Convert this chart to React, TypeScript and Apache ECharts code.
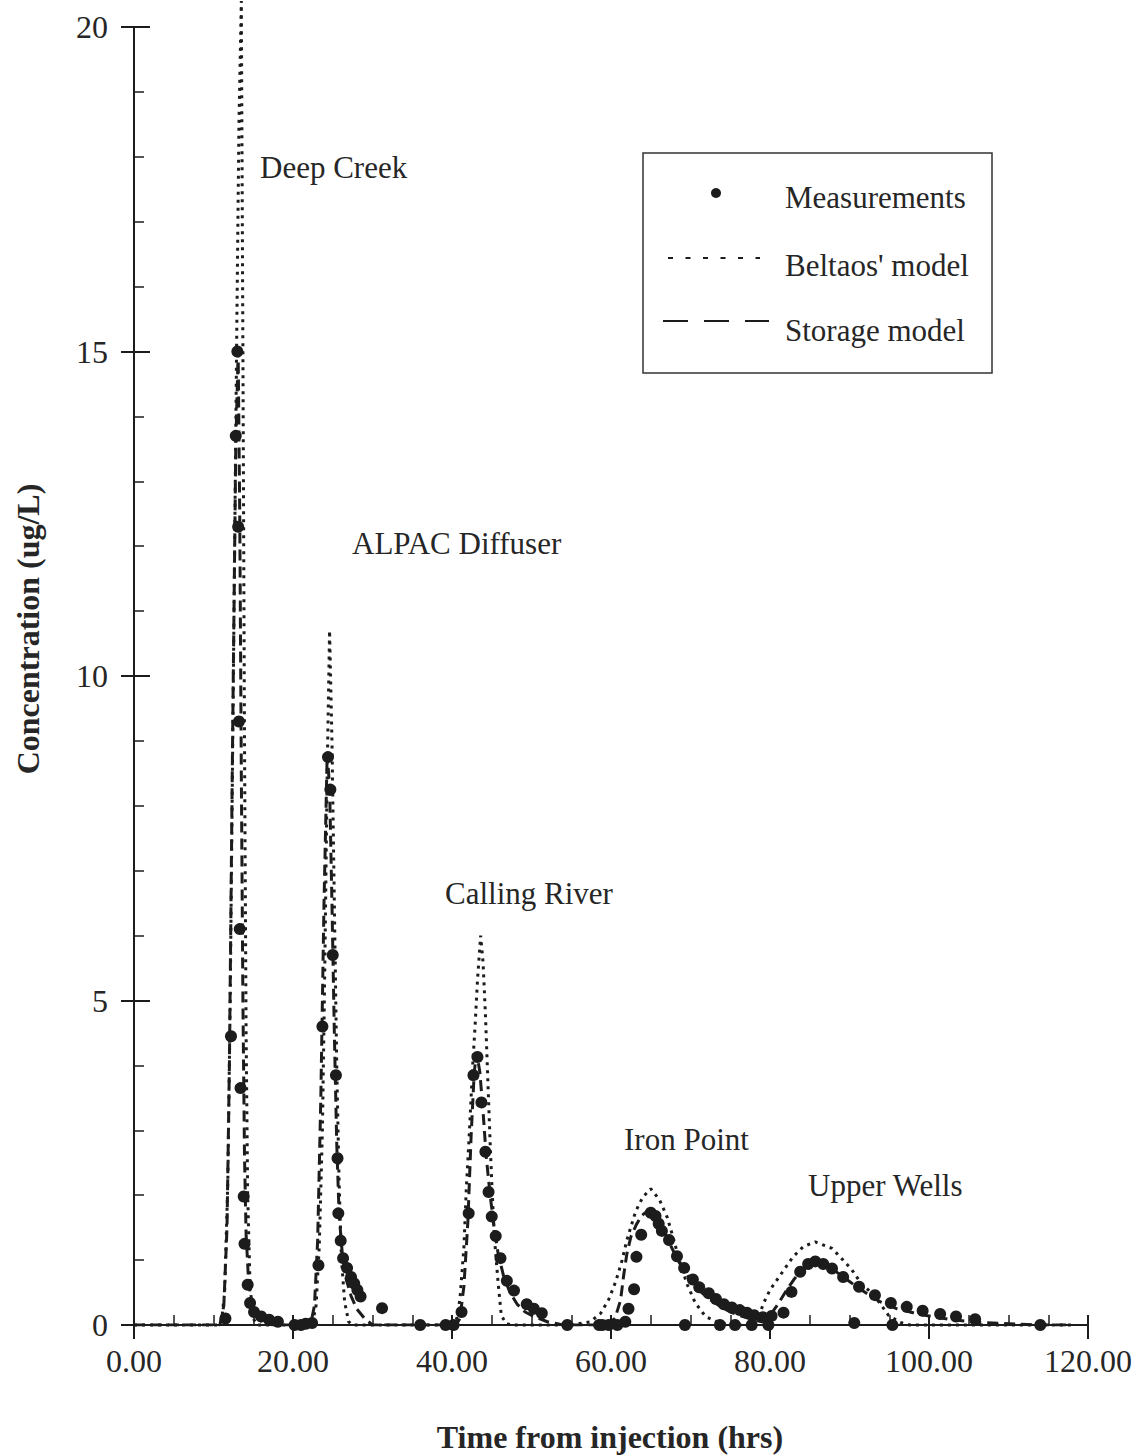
import React, { useEffect, useRef } from "react";
import * as echarts from "echarts";

// ---- tick labels / names ----
const xTickLabels = ["0.00", "20.00", "40.00", "60.00", "80.00", "100.00", "120.00"];
const yTickLabels = ["0", "5", "10", "15", "20"];
const stationNames = ["Deep Creek", "ALPAC Diffuser", "Calling River", "Iron Point", "Upper Wells"];
const seriesNames = ["Measurements", "Beltaos' model", "Storage model"];
const xTitle = "Time from injection (hrs)";
const yTitle = "Concentration (ug/L)";

// ---- measurements [time (hrs), concentration (ug/L)] ----
const deepCreekMeas = [
  [11.5, 0.1], [12.2, 4.45], [12.8, 13.7], [13.0, 15.0], [13.1, 12.3], [13.2, 9.3],
  [13.3, 6.1], [13.4, 3.65], [13.8, 1.98], [13.9, 1.25], [14.3, 0.62], [14.6, 0.34],
  [15.1, 0.2], [16.0, 0.13], [17.0, 0.08], [18.1, 0.05], [20.2, 0], [21.0, 0],
  [21.6, 0.02], [22.4, 0.03],
];
const alpacMeas = [
  [23.2, 0.92], [23.7, 4.6], [24.4, 8.75], [24.7, 8.25], [25.0, 5.7], [25.4, 3.85],
  [25.6, 2.57], [25.7, 1.72], [26.0, 1.3], [26.3, 1.03], [26.8, 0.88], [27.3, 0.74],
  [27.7, 0.64], [28.1, 0.54], [28.5, 0.44], [31.2, 0.26],
];
const callingMeas = [
  [36.0, 0], [39.2, 0], [40.2, 0], [41.2, 0.2], [42.1, 1.72], [42.7, 3.85], [43.2, 4.13],
  [43.7, 3.43], [44.2, 2.67], [44.6, 2.05], [45.0, 1.67], [45.5, 1.37], [46.1, 1.03],
  [46.9, 0.68], [47.8, 0.53], [49.4, 0.32], [50.3, 0.25], [51.3, 0.18], [54.5, 0], [58.5, 0],
];
const ironPointMeas = [
  [58.9, 0], [59.7, 0], [60.8, 0], [61.8, 0.05], [62.2, 0.25], [62.9, 0.55], [63.2, 1.05],
  [63.8, 1.39], [65.0, 1.73], [65.6, 1.68], [66.0, 1.56], [66.4, 1.45], [67.3, 1.31],
  [68.3, 1.06], [69.2, 0.88], [70.3, 0.7], [71.1, 0.58], [72.3, 0.49], [73.2, 0.4],
  [74.2, 0.32], [75.2, 0.27], [76.2, 0.23], [77.1, 0.19], [78.0, 0.15], [79.1, 0.12],
  [69.3, 0], [73.7, 0], [75.6, 0], [77.7, 0], [79.8, 0],
];
const upperWellsMeas = [
  [80.2, 0.14], [81.7, 0.19], [82.7, 0.51], [83.8, 0.82], [84.8, 0.94], [85.7, 0.98],
  [86.7, 0.94], [87.8, 0.87], [89.2, 0.74], [91.2, 0.59], [93.2, 0.46], [95.2, 0.34],
  [97.2, 0.28], [99.2, 0.22], [101.4, 0.17], [103.4, 0.13], [105.8, 0.09], [90.6, 0.03],
  [95.4, 0], [114.0, 0],
];

// ---- model curves [time, concentration] ----
const beltaosModel = [
  [0, 0], [10.6, 0], [11.0, 0.05], [11.4, 0.5], [11.8, 2.2], [12.1, 5.0], [12.5, 10.0],
  [12.9, 15.0], [13.2, 18.5], [13.5, 20.4], [13.7, 15.0], [13.9, 9.0], [14.1, 4.5],
  [14.3, 2.0], [14.6, 0.6], [15.0, 0.1], [15.5, 0],
  [22.4, 0], [22.9, 0.3], [23.3, 1.2], [23.7, 3.0], [24.0, 5.5], [24.3, 8.5], [24.6, 10.7],
  [24.9, 9.0], [25.2, 6.5], [25.5, 4.0], [25.8, 2.2], [26.1, 1.0], [26.5, 0.35], [27.0, 0.05],
  [27.5, 0],
  [40.0, 0], [40.6, 0.1], [41.0, 0.4], [41.5, 1.2], [41.8, 2.1], [42.2, 3.0], [42.6, 4.0],
  [42.9, 4.6], [43.2, 5.3], [43.6, 6.0], [43.9, 5.6], [44.2, 4.8], [44.5, 3.8], [44.8, 2.8],
  [45.0, 2.2], [45.3, 1.4], [45.8, 0.65], [46.2, 0.15], [46.8, 0.02], [47.5, 0],
  [55.0, 0], [57.4, 0.05], [58.7, 0.18], [59.7, 0.39], [60.6, 0.67], [61.4, 1.0], [62.0, 1.31],
  [63.1, 1.75], [64.0, 1.97], [65.0, 2.1], [66.1, 1.93], [67.1, 1.65], [67.9, 1.31],
  [68.7, 0.95], [69.6, 0.62], [70.6, 0.34], [71.9, 0.13], [73.3, 0.05], [75.0, 0],
  [77.5, 0], [78.5, 0.1], [79.2, 0.34], [80.0, 0.54], [81.3, 0.77], [82.9, 1.05], [84.2, 1.21],
  [85.7, 1.28], [87.8, 1.18], [89.2, 1.0], [90.3, 0.85], [91.3, 0.67], [92.6, 0.51],
  [93.8, 0.34], [94.9, 0.15], [96.4, 0.04], [97.6, 0], [118.0, 0],
];
const storageModel = [
  [0, 0], [10.8, 0], [11.3, 0.3], [11.7, 1.5], [12.0, 4.0], [12.4, 9.0], [12.8, 13.5],
  [13.1, 15.0], [13.3, 12.5], [13.5, 8.5], [13.7, 5.0], [13.9, 2.6], [14.1, 1.4], [14.4, 0.7],
  [14.8, 0.3], [15.5, 0.1], [16.5, 0.02], [17.5, 0],
  [22.2, 0], [22.7, 0.3], [23.1, 1.3], [23.5, 3.5], [23.9, 6.5], [24.3, 8.8], [24.6, 8.3],
  [24.9, 6.5], [25.2, 4.5], [25.5, 2.8], [25.8, 1.7], [26.2, 1.1], [26.7, 0.7], [27.3, 0.45],
  [28.0, 0.25], [29.0, 0.1], [30.0, 0],
  [40.5, 0], [41.0, 0.1], [41.5, 0.6], [42.0, 1.6], [42.4, 2.9], [42.8, 3.9], [43.1, 4.2],
  [43.5, 3.9], [43.9, 3.3], [44.3, 2.6], [44.8, 2.0], [45.3, 1.5], [45.8, 1.1], [46.5, 0.75],
  [47.3, 0.5], [48.2, 0.32], [49.2, 0.2], [50.5, 0.12], [52.0, 0.05], [54.0, 0],
  [58.0, 0], [59.5, 0.02], [60.5, 0.1], [61.2, 0.38], [61.6, 0.77], [62.0, 1.1], [62.5, 1.36],
  [63.2, 1.55], [63.9, 1.69], [64.7, 1.77], [65.5, 1.72], [66.3, 1.55], [67.2, 1.3],
  [68.2, 1.05], [69.2, 0.83], [70.3, 0.65], [71.4, 0.5], [72.6, 0.38], [73.8, 0.28],
  [75.0, 0.2], [76.3, 0.14], [77.6, 0.09], [79.0, 0.05],
  [80.0, 0.15], [81.0, 0.32], [82.0, 0.52], [83.0, 0.7], [84.0, 0.84], [85.0, 0.92],
  [86.0, 0.95], [87.0, 0.92], [88.0, 0.85], [89.0, 0.76], [90.0, 0.67], [91.0, 0.58],
  [92.0, 0.5], [93.0, 0.42], [94.0, 0.35], [95.0, 0.3], [96.0, 0.25], [97.0, 0.22],
  [98.0, 0.19], [99.0, 0.16], [100.0, 0.14], [103.0, 0.08], [106.0, 0.04], [110.0, 0.02],
  [114.0, 0], [118.0, 0],
];

const FONT = '"Liberation Serif", "Times New Roman", serif';
const INK = "#1c1c1c";

export default function App() {
  const ref = useRef<HTMLDivElement>(null);

  useEffect(() => {
    const chart = echarts.init(ref.current as HTMLDivElement, null, { renderer: "svg" });
    const measurements = [
      ...deepCreekMeas, ...alpacMeas, ...callingMeas, ...ironPointMeas, ...upperWellsMeas,
    ];
    const stationPos = [[260, 167], [352, 543], [445, 893], [624, 1139], [808, 1185]];

    const txt = (text: string, x: number, y: number, extra: any = {}) => ({
      type: "text",
      x,
      y,
      silent: true,
      style: {
        text,
        fill: "#262626",
        fontFamily: FONT,
        fontSize: 31,
        align: "left",
        verticalAlign: "middle",
        ...extra,
      },
    });

    const tickLine = { color: INK, width: 2 };

    chart.setOption({
      animation: false,
      backgroundColor: "#ffffff",
      grid: { left: 134, right: 49, top: 27, bottom: 131 },
      xAxis: [
        {
          type: "value",
          min: 0,
          max: 120,
          interval: 20,
          position: "bottom",
          axisLine: { show: true, onZero: false, lineStyle: { color: INK, width: 2 } },
          axisTick: { show: true, inside: true, length: 10, lineStyle: tickLine },
          minorTick: { show: true, splitNumber: 4, length: 10, lineStyle: { color: INK, width: 1.5 } },
          axisLabel: {
            margin: 20,
            fontSize: 32,
            fontFamily: FONT,
            color: "#262626",
            formatter: (v: number) => xTickLabels[Math.round(v / 20)] ?? "",
          },
          splitLine: { show: false },
          minorSplitLine: { show: false },
        },
        {
          type: "value",
          min: 0,
          max: 120,
          interval: 20,
          position: "bottom",
          axisLine: { show: false, onZero: false },
          axisTick: { show: true, inside: false, length: 14, lineStyle: tickLine },
          axisLabel: { show: false },
          splitLine: { show: false },
        },
      ],
      yAxis: [
        {
          type: "value",
          min: 0,
          max: 20,
          interval: 5,
          position: "left",
          axisLine: { show: true, onZero: false, lineStyle: { color: INK, width: 2 } },
          axisTick: { show: true, inside: true, length: 16, lineStyle: tickLine },
          minorTick: { show: true, splitNumber: 5, length: 10, lineStyle: { color: INK, width: 1.5 } },
          axisLabel: {
            margin: 26,
            fontSize: 32,
            fontFamily: FONT,
            color: "#262626",
            formatter: (v: number) => yTickLabels[Math.round(v / 5)] ?? "",
          },
          splitLine: { show: false },
        },
        {
          type: "value",
          min: 0,
          max: 20,
          interval: 5,
          position: "left",
          axisLine: { show: false, onZero: false },
          axisTick: { show: true, inside: false, length: 13, lineStyle: tickLine },
          axisLabel: { show: false },
          splitLine: { show: false },
        },
      ],
      series: [
        {
          name: seriesNames[1],
          type: "line",
          data: beltaosModel,
          xAxisIndex: 0,
          yAxisIndex: 0,
          showSymbol: false,
          symbol: "none",
          clip: false,
          lineStyle: { color: INK, width: 3, type: [3, 5], opacity: 1 },
          z: 2,
        },
        {
          name: seriesNames[2],
          type: "line",
          data: storageModel,
          xAxisIndex: 0,
          yAxisIndex: 0,
          showSymbol: false,
          symbol: "none",
          lineStyle: { color: INK, width: 3, type: [11, 6], opacity: 1 },
          z: 2,
        },
        {
          name: seriesNames[0],
          type: "scatter",
          data: measurements,
          xAxisIndex: 0,
          yAxisIndex: 0,
          symbol: "circle",
          symbolSize: 12,
          itemStyle: { color: INK, opacity: 1 },
          z: 3,
        },
      ],
      graphic: [
        ...stationNames.map((n, i) => txt(n, stationPos[i][0], stationPos[i][1])),
        // legend box
        {
          type: "rect",
          silent: true,
          shape: { x: 643, y: 153, width: 349, height: 220 },
          style: { fill: "#fff", stroke: "#333", lineWidth: 1.5 },
          z: 10,
        },
        {
          type: "circle",
          silent: true,
          shape: { cx: 716, cy: 193, r: 5 },
          style: { fill: INK },
          z: 11,
        },
        {
          type: "line",
          silent: true,
          shape: { x1: 668, y1: 258, x2: 760, y2: 258 },
          style: { stroke: INK, lineWidth: 2, lineDash: [5, 12.5] },
          z: 11,
        },
        {
          type: "line",
          silent: true,
          shape: { x1: 663, y1: 321, x2: 769, y2: 321 },
          style: { stroke: INK, lineWidth: 2, lineDash: [25, 16] },
          z: 11,
        },
        { ...txt(seriesNames[0], 785, 197), z: 11 },
        { ...txt(seriesNames[1], 785, 265), z: 11 },
        { ...txt(seriesNames[2], 785, 330), z: 11 },
        // axis titles
        txt(xTitle, 610, 1437, { fontSize: 32, fontWeight: "bold", align: "center" }),
        {
          ...txt(yTitle, 0, 0, { fontSize: 32, fontWeight: "bold", align: "center" }),
          x: 28,
          y: 629,
          rotation: Math.PI / 2,
        },
      ],
    });

    return () => chart.dispose();
  }, []);

  return (
    <div
      ref={ref}
      style={{ position: "absolute", left: 0, top: 0, width: 1137, height: 1456, background: "#fff" }}
    />
  );
}
